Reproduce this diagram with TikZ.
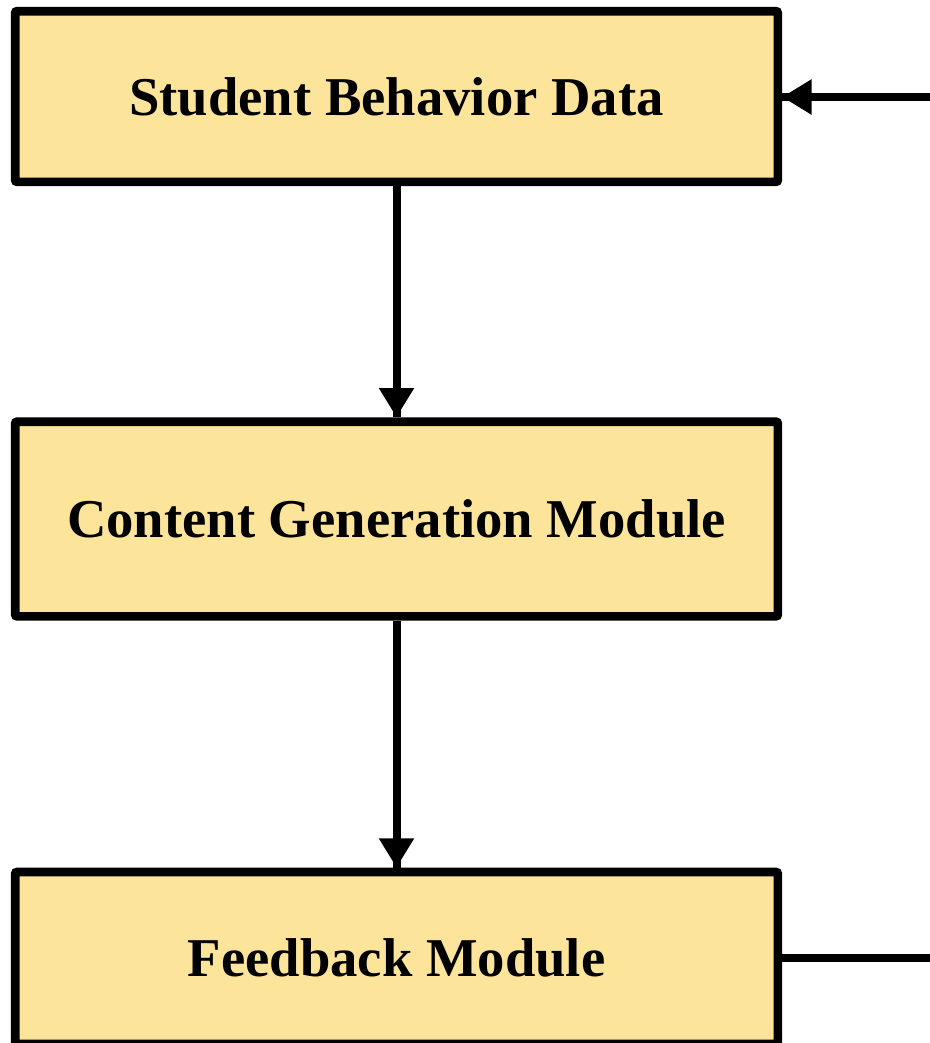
\documentclass[tikz,border=0pt]{standalone}
\usepackage{fontspec}
\setmainfont{Liberation Serif}
\usetikzlibrary{arrows.meta}
\usetikzlibrary{decorations.markings}
\usetikzlibrary{positioning}
\tikzset{flow/.style = {line width=6pt,
                        decoration={markings,
                                    mark=at position 1 with {\arrow{Triangle[length=22pt,width=25pt]}}},
                        postaction={decorate}}}
\tikzset{stage/.style = {draw, fill=mbox, line width=6.5pt, rounded corners=1.5pt,
                         minimum width=572pt, inner sep=0,
                         font=\bfseries\fontsize{41}{48}\selectfont}}
\definecolor{mbox}{RGB}{253, 228, 155}

\begin{document}
\begin{tikzpicture}[x=0.75pt, y=-0.75pt]
      \useasboundingbox (0, 0) rectangle (930, 1043);

      \node [stage, minimum height=128pt] (data) at (396.5, 96.5) {Student Behavior Data};
      \node [stage, minimum height=146pt] (gen) at (396.5, 519) {Content Generation Module};
      \node [stage, minimum height=129pt] (fb) at (396.5, 958) {Feedback Module};

      \coordinate (loopout) at (930, 958);
      \coordinate (loopin) at (930, 97);

      \draw [flow] (data) -- (gen);
      \draw [flow] (gen) -- (fb);
      \draw [line width=6pt] (fb.east) -- (loopout);
      \draw [flow] (loopin) -- (data.east |- loopin);
    \end{tikzpicture}
\end{document}
